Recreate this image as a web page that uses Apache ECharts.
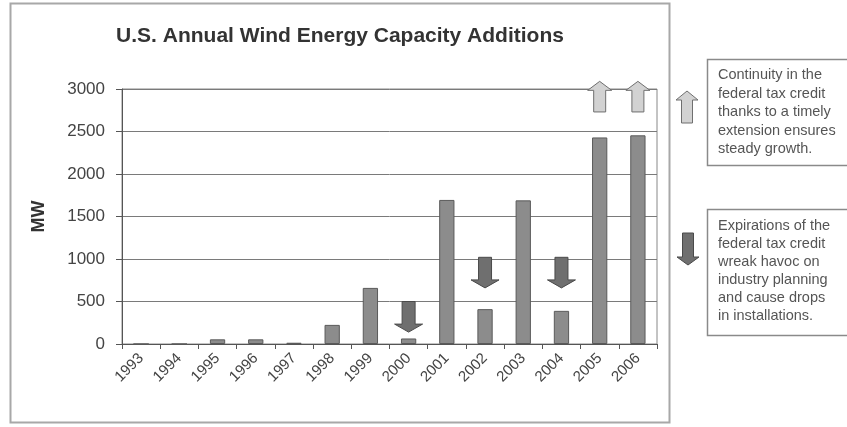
<!DOCTYPE html>
<html>
<head>
<meta charset="utf-8">
<script src="https://cdn.jsdelivr.net/npm/echarts@6/dist/echarts.min.js"></script>
<style>
  html, body { margin: 0; padding: 0; background: #fff; }
  #chart { width: 847px; height: 427px; }
</style>
</head>
<body>
<div id="chart"></div>
<script>
// Annual U.S. wind capacity additions (MW)
const years = ['1993','1994','1995','1996','1997','1998','1999','2000','2001','2002','2003','2004','2005','2006'];
const capacityMW = [0, 0, 55, 55, 15, 225, 660, 65, 1695, 410, 1690, 390, 2430, 2455];

// Drop arrows (tax credit expirations): start and tip values in MW
const dropYears = ['2000', '2002', '2004'];
const dropFrom = [500, 1020, 1020];
const dropTo = [140, 660, 660];

// Rise arrows (tax credit continuity)
const riseYears = ['2005', '2006'];
const riseFrom = [2730, 2730];
const riseTo = [3090, 3090];

const yTicks = [0, 500, 1000, 1500, 2000, 2500, 3000];

const noteRise = 'Continuity in the\nfederal tax credit\nthanks to a timely\nextension ensures\nsteady growth.';
const noteDrop = 'Expirations of the\nfederal tax credit\nwreak havoc on\nindustry planning\nand cause drops\nin installations.';

const FONT = '"Liberation Sans", Arial, sans-serif';

// Block arrow polygon between two pixel points along a vertical line
function arrowPoints(cx, y0, y1, shaftHalf, headHalf, headLen) {
  const dir = y1 > y0 ? 1 : -1;
  const yb = y1 - dir * headLen;
  return [
    [cx - shaftHalf, y0], [cx + shaftHalf, y0],
    [cx + shaftHalf, yb], [cx + headHalf, yb],
    [cx, y1],
    [cx - headHalf, yb], [cx - shaftHalf, yb]
  ];
}

function makeArrowRenderer(shaftHalf, headHalf, headLen, fill, stroke) {
  return function (params, api) {
    const a = api.coord([api.value(0), api.value(1)]);
    const b = api.coord([api.value(0), api.value(2)]);
    return {
      type: 'polygon',
      shape: { points: arrowPoints(a[0], a[1], b[1], shaftHalf, headHalf, headLen) },
      style: { fill: fill, stroke: stroke, lineWidth: 1 }
    };
  };
}

const dropData = dropYears.map((y, i) => [years.indexOf(y), dropFrom[i], dropTo[i]]);
const riseData = riseYears.map((y, i) => [years.indexOf(y), riseFrom[i], riseTo[i]]);

const chart = echarts.init(document.getElementById('chart'), null, { renderer: 'canvas' });

chart.setOption({
  animation: false,
  backgroundColor: '#ffffff',
  title: {
    text: 'U.S. Annual Wind Energy Capacity Additions',
    left: 335, top: 21, textAlign: 'center',
    textStyle: { fontFamily: FONT, fontSize: 21, fontWeight: 'bold', color: '#333' }
  },
  grid: {
    left: 122, right: 190, top: 89, bottom: 83,
    show: true, borderColor: '#888', borderWidth: 1, backgroundColor: 'transparent'
  },
  xAxis: {
    type: 'category',
    data: years,
    boundaryGap: true,
    axisLine: { lineStyle: { color: '#555', width: 1 } },
    axisTick: { show: true, length: 5, lineStyle: { color: '#555' } },
    axisLabel: {
      rotate: 45, margin: 12, fontFamily: FONT, fontSize: 15, color: '#444'
    }
  },
  yAxis: {
    type: 'value',
    min: 0, max: 3000, interval: 500,
    name: 'MW',
    nameLocation: 'middle',
    nameGap: 74,
    nameRotate: 90,
    nameTextStyle: { fontFamily: FONT, fontSize: 18, fontWeight: 'bold', color: '#333' },
    axisLine: { show: true, lineStyle: { color: '#555', width: 1 } },
    axisTick: { show: true, length: 6, lineStyle: { color: '#555' } },
    axisLabel: {
      margin: 17, fontFamily: FONT, fontSize: 17, color: '#444',
      formatter: v => (yTicks.indexOf(v) >= 0 ? String(v) : '')
    },
    splitLine: { show: true, lineStyle: { color: '#7a7a7a', width: 1 } }
  },
  series: [
    {
      type: 'bar',
      data: capacityMW,
      barWidth: '40%',
      itemStyle: { color: '#8c8c8c', borderColor: '#5a5a5a', borderWidth: 1 },
      z: 2
    },
    {
      type: 'custom',
      data: dropData,
      clip: false,
      renderItem: makeArrowRenderer(6.5, 14, 8, '#6f6f6f', '#4a4a4a'),
      z: 5
    },
    {
      type: 'custom',
      data: riseData,
      clip: false,
      renderItem: makeArrowRenderer(6, 12, 9, '#d2d2d2', '#6f6f6f'),
      z: 5
    }
  ],
  graphic: [
    // chart frame
    {
      type: 'rect', z: -1,
      shape: { x: 10.5, y: 3.5, width: 659, height: 419 },
      style: { fill: 'transparent', stroke: '#a8a8a8', lineWidth: 2 }
    },
    // key arrows
    {
      type: 'polygon',
      shape: { points: arrowPoints(687, 123, 91, 5.5, 11, 9) },
      style: { fill: '#d2d2d2', stroke: '#6f6f6f', lineWidth: 1 }
    },
    {
      type: 'polygon',
      shape: { points: arrowPoints(688, 233, 265, 5.5, 11, 8) },
      style: { fill: '#6f6f6f', stroke: '#4a4a4a', lineWidth: 1 }
    },
    // note boxes
    {
      type: 'rect',
      shape: { x: 707.5, y: 59.5, width: 150, height: 106 },
      style: { fill: '#fff', stroke: '#8a8a8a', lineWidth: 1.5 }
    },
    {
      type: 'text',
      left: 718, top: 66,
      style: {
        text: noteRise, fontFamily: FONT, fontSize: 14.5, lineHeight: 18.5, fill: '#555'
      }
    },
    {
      type: 'rect',
      shape: { x: 707.5, y: 209.5, width: 150, height: 126 },
      style: { fill: '#fff', stroke: '#8a8a8a', lineWidth: 1.5 }
    },
    {
      type: 'text',
      left: 718, top: 217,
      style: {
        text: noteDrop, fontFamily: FONT, fontSize: 14.5, lineHeight: 18, fill: '#555'
      }
    }
  ]
});
</script>
</body>
</html>
